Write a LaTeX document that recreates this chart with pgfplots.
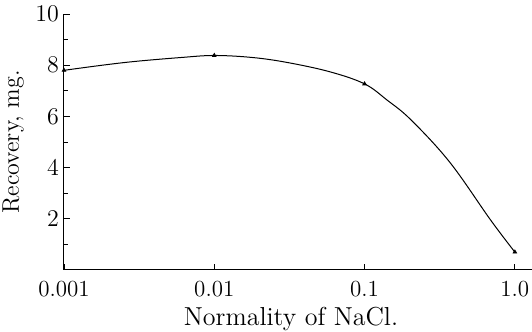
\documentclass[border=0pt]{standalone}
\usepackage{pgfplots}
\pgfplotsset{compat=1.18}
\begin{document}
\begin{tikzpicture}
\begin{axis}[
  scale only axis,
  width=234pt, height=128pt,
  xmode=log, log basis x=10,
  xmin=0.001, xmax=1.3,
  ymin=0, ymax=10,
  axis lines=left,
  axis line style={-, line width=0.5pt},
  xtick={0.001,0.01,0.1,1},
  xticklabels={0.001,0.01,0.1,1.0},
  minor xtick={},
  ytick={2,4,6,8,10},
  minor ytick={1,3,5,7,9},
  tick align=inside,
  major tick length=3pt,
  minor tick length=2pt,
  tick style={black, line width=0.4pt},
  tick label style={font=\fontsize{11.5}{13}\selectfont},
  xticklabel style={yshift=-2pt},
  yticklabel style={xshift=1pt},
  ylabel={Recovery, mg.},
  ylabel style={font=\fontsize{12}{14}\selectfont, yshift=-1pt},
  xlabel={Normality of NaCl.},
  xlabel style={font=\fontsize{13}{15}\selectfont, at={(ticklabel cs:0.485)}, anchor=north, yshift=1.5pt},
  clip=false,
]
\addplot[black, line width=0.5pt, smooth, tension=0.6] coordinates {
(0.001,7.8) (0.0018,8.0) (0.003,8.15) (0.006,8.3) (0.01,8.38) (0.018,8.3)
(0.031,8.1) (0.059,7.74) (0.1,7.27) (0.141,6.64) (0.204,5.86)
(0.37,4.2) (0.69,1.95) (1.0,0.7)
};
\addplot[only marks, black, mark=triangle*, mark size=1pt] coordinates {
(0.001,7.8) (0.01,8.38) (0.1,7.27) (1.0,0.7)
};
\end{axis}
\pgfresetboundingbox
\path (-32pt,-31pt) rectangle (234pt,135pt);
\end{tikzpicture}
\end{document}
